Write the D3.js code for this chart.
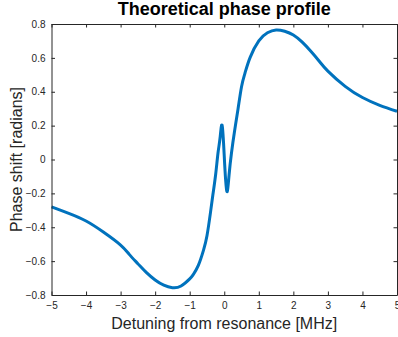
<!DOCTYPE html>
<html>
<head>
<meta charset="utf-8">
<script src="https://cdn.jsdelivr.net/npm/d3@7/dist/d3.min.js"></script>
<style>
  body { margin: 0; background: #fff; }
  svg text { font-family: "Liberation Sans", Arial, Helvetica, sans-serif; fill: #262626; }
</style>
</head>
<body>
<div id="chart"></div>
<script>
//Values
var detuning = [-5, -4.5, -4, -3.5, -3, -2.75, -2.5, -2.25, -2, -1.75, -1.5, -1.25, -1, -0.9, -0.75, -0.6, -0.5, -0.4, -0.33, -0.25, -0.18, -0.12, -0.06,
	0, 0.04, 0.087, 0.14, 0.21, 0.3, 0.4, 0.5, 0.6, 0.75, 1, 1.25, 1.5, 1.75, 2, 2.25, 2.5, 2.75, 3, 3.5, 4, 4.5, 5];
var phase = [-0.28, -0.318, -0.363, -0.428, -0.505, -0.56, -0.615, -0.668, -0.711, -0.742, -0.757, -0.747, -0.705, -0.68, -0.625, -0.535, -0.45, -0.315, -0.21, -0.09, 0.04, 0.13, 0.20,
	0.02, -0.12, -0.19, -0.09, 0.04, 0.17, 0.30, 0.43, 0.51, 0.603, 0.70, 0.748, 0.765, 0.757, 0.735, 0.694, 0.64, 0.58, 0.522, 0.432, 0.366, 0.32, 0.285];
var xTicks = [-5, -4, -3, -2, -1, 0, 1, 2, 3, 4, 5];
var yTicks = [-0.8, -0.6, -0.4, -0.2, 0, 0.2, 0.4, 0.6, 0.8];

var margin = { top: 24, right: 1, bottom: 42, left: 51.5 };
var W = 398, H = 337;
var width = W - margin.left - margin.right;
var height = H - margin.top - margin.bottom;

var svg = d3.select("#chart").append("svg")
	.attr("width", W)
	.attr("height", H);

var g = svg.append("g")
	.attr("transform", "translate(" + margin.left + "," + margin.top + ")");

var x = d3.scaleLinear().domain([-5, 5]).range([0, width]);
var y = d3.scaleLinear().domain([-0.8, 0.8]).range([height, 0]);

var axisColor = "#262626";
var tickLen = 3.5;

//Curve
var line = d3.line()
	.x(function(d) { return x(d[0]); })
	.y(function(d) { return y(d[1]); })
	.curve(d3.curveNatural);

g.append("path")
	.datum(d3.zip(detuning, phase))
	.attr("d", line)
	.style("fill", "none")
	.style("stroke", "#0072BD")
	.style("stroke-width", 3)
	.style("stroke-linejoin", "round");

//Axes, ticks pointing inward on all four sides
var fmt = function(d) { return d3.format("")(+d.toFixed(1)); };

g.append("g")
	.attr("transform", "translate(0," + height + ")")
	.call(d3.axisBottom(x).tickValues(xTicks).tickSizeInner(-tickLen).tickSizeOuter(0).tickPadding(7).tickFormat(fmt));
g.append("g")
	.call(d3.axisTop(x).tickValues(xTicks).tickSizeInner(-tickLen).tickSizeOuter(0).tickFormat(""));
g.append("g")
	.call(d3.axisLeft(y).tickValues(yTicks).tickSizeInner(-tickLen).tickSizeOuter(0).tickPadding(6).tickFormat(fmt));
g.append("g")
	.attr("transform", "translate(" + width + ",0)")
	.call(d3.axisRight(y).tickValues(yTicks).tickSizeInner(-tickLen).tickSizeOuter(0).tickFormat(""));

g.selectAll(".domain").style("stroke", axisColor).style("stroke-width", 1);
g.selectAll(".tick line").style("stroke", axisColor).style("stroke-width", 1);
g.selectAll(".tick text")
	.style("font-family", "'Liberation Sans', Arial, sans-serif")
	.style("font-size", "10px")
	.style("fill", axisColor);

//Title and labels
svg.append("text")
	.attr("x", margin.left + width / 2)
	.attr("y", 15)
	.style("text-anchor", "middle")
	.style("font-size", "18px")
	.style("font-weight", "bold")
	.style("fill", "#000")
	.text("Theoretical phase profile");

svg.append("text")
	.attr("x", margin.left + width / 2)
	.attr("y", 329)
	.style("text-anchor", "middle")
	.style("font-size", "16px")
	.text("Detuning from resonance [MHz]");

svg.append("text")
	.attr("transform", "translate(22," + (margin.top + height / 2) + ") rotate(-90)")
	.style("text-anchor", "middle")
	.style("font-size", "16px")
	.text("Phase shift [radians]");
</script>
</body>
</html>
